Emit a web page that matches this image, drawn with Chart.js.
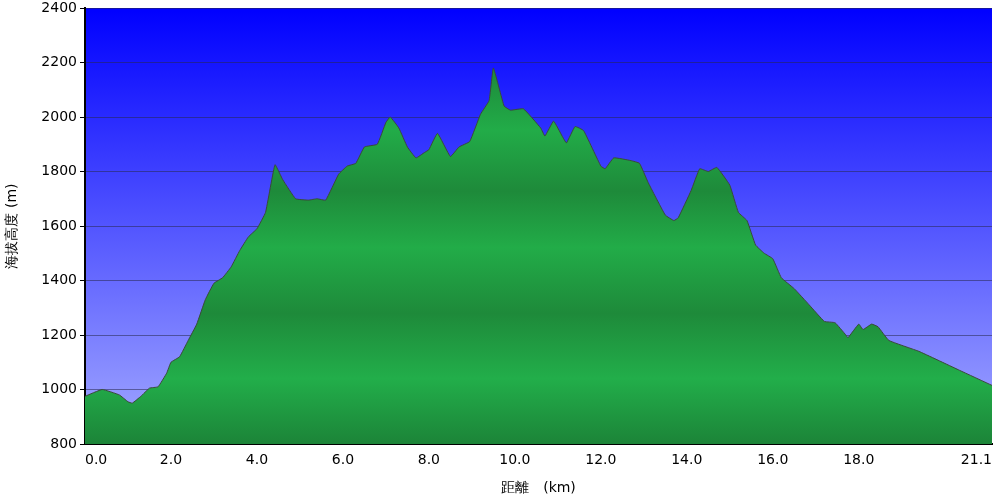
<!DOCTYPE html>
<html>
<head>
<meta charset="utf-8">
<script src="https://cdn.jsdelivr.net/npm/chart.js@4"></script>
<style>
  body { margin: 0; background: #fff; }
  #wrap { width: 1000px; height: 501px; }
</style>
</head>
<body>
<div id="wrap"><canvas id="chart"></canvas></div>
<script>
// distancia (km) y altura (m)
const distKm = [0, 0.4, 0.8, 1.0, 1.1, 1.3, 1.5, 1.7, 1.9, 2.0, 2.2, 2.4, 2.6, 2.8, 3.0, 3.2, 3.4, 3.6, 3.8, 4.0,
  4.2, 4.42, 4.6, 4.9, 5.2, 5.4, 5.6, 5.9, 6.1, 6.3, 6.5, 6.8, 7.0, 7.1, 7.3, 7.5, 7.7, 7.9, 8.0, 8.2,
  8.5, 8.7, 8.95, 9.2, 9.4, 9.5, 9.75, 9.9, 10.2, 10.6, 10.7, 10.9, 11.1, 11.2, 11.4, 11.6, 12.0, 12.1, 12.3, 12.7,
  12.9, 13.1, 13.5, 13.7, 13.8, 14.1, 14.3, 14.5, 14.7, 15.0, 15.2, 15.4, 15.6, 15.8, 16.0, 16.2, 16.5, 16.85, 17.2, 17.45,
  17.7, 17.75, 18.0, 18.1, 18.3, 18.45, 18.7, 19.4, 20.35, 21.1];
const altura = [975, 1000, 980, 955, 950, 975, 1005, 1010, 1060, 1100, 1120, 1180, 1240, 1330, 1390, 1410, 1450, 1510, 1560, 1590,
  1650, 1825, 1770, 1700, 1695, 1700, 1695, 1790, 1820, 1830, 1890, 1900, 1980, 2000, 1960, 1890, 1850, 1870, 1880, 1940,
  1855, 1890, 1910, 2010, 2060, 2180, 2040, 2025, 2030, 1960, 1930, 1985, 1930, 1905, 1965, 1950, 1820, 1810, 1850, 1840,
  1830, 1760, 1640, 1620, 1630, 1730, 1810, 1800, 1815, 1750, 1650, 1620, 1530, 1500, 1480, 1410, 1370, 1310, 1250, 1245,
  1200, 1190, 1240, 1220, 1240, 1230, 1180, 1140, 1070, 1015];
const xTicks = [0, 2, 4, 6, 8, 10, 12, 14, 16, 18, 21.1];

const puntos = distKm.map((d, i) => ({ x: d, y: altura[i] }));

// fondo azul degradado
const fondo = {
  id: 'fondo',
  beforeDraw(chart) {
    const { ctx, chartArea: a } = chart;
    const g = ctx.createLinearGradient(0, a.top, 0, a.bottom);
    g.addColorStop(0, '#0000ff');
    g.addColorStop(1, '#a4aaff');
    ctx.save();
    ctx.fillStyle = g;
    ctx.fillRect(a.left, a.top, a.right - a.left, a.bottom - a.top);
    ctx.restore();
  }
};

function verde(context) {
  const a = context.chart.chartArea;
  if (!a) return '#22aa44';
  const g = context.chart.ctx.createLinearGradient(0, a.top, 0, a.bottom);
  const stops = [[0, '#22a848'], [0.16, '#1e8e3c'], [0.28, '#22ac48'], [0.42, '#1e8a3a'], [0.55, '#22ac48'],
    [0.7, '#1e8a3a'], [0.85, '#22ae4a'], [1, '#1c8438']];
  stops.forEach(s => g.addColorStop(s[0], s[1]));
  return g;
}

const fuente = { family: 'DejaVu Sans', size: 14 };

new Chart(document.getElementById('chart'), {
  type: 'line',
  data: {
    datasets: [{
      data: puntos,
      fill: 'start',
      backgroundColor: verde,
      borderColor: '#3a4a3a',
      borderWidth: 1,
      pointRadius: 0,
      tension: 0.1
    }]
  },
  options: {
    responsive: true,
    maintainAspectRatio: false,
    animation: false,
    layout: { padding: { left: 0, right: 8, top: 8, bottom: 0 } },
    plugins: { legend: { display: false }, tooltip: { enabled: false } },
    scales: {
      x: {
        type: 'linear', min: 0, max: 21.1,
        afterBuildTicks: axis => { axis.ticks = xTicks.map(v => ({ value: v })); },
        afterFit: axis => { axis.height = 57; axis.paddingRight = 0; axis.paddingLeft = 0; },
        ticks: { color: '#000', font: fuente, maxRotation: 0, align: 'inner', callback: v => v.toFixed(1) },
        grid: { display: false, tickLength: 5 },
        border: { color: '#000', width: 2 },
        title: { display: true, text: '距離　(km)', color: '#000', font: fuente, padding: { top: 8 } }
      },
      y: {
        min: 800, max: 2400,
        afterFit: axis => { axis.width = 85; axis.paddingTop = 0; axis.paddingBottom = 0; },
        ticks: { stepSize: 200, color: '#000', font: fuente, callback: v => String(v) },
        grid: { color: 'rgba(40,40,80,0.55)', tickColor: '#000', tickLength: 5 },
        border: { color: '#000', width: 2 },
        title: { display: true, text: '海拔高度 (m)', color: '#000', font: fuente }
      }
    }
  },
  plugins: [fondo]
});
</script>
</body>
</html>
